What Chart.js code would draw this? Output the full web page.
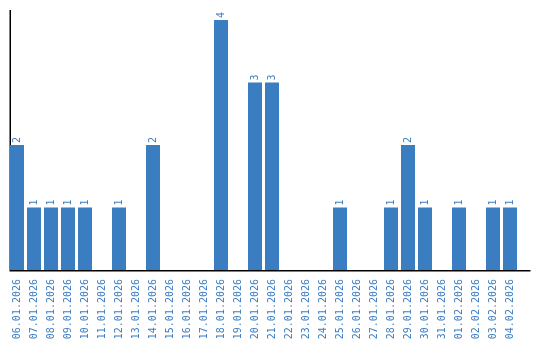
<!DOCTYPE html>
<html>
<head>
<meta charset="utf-8">
<script src="https://cdn.jsdelivr.net/npm/chart.js@4/dist/chart.umd.min.js"></script>
<style>
    html, body { margin: 0; padding: 0; background: #fff; }
    #wrap { width: 540px; height: 340px; }
</style>
</head>
<body>
<div id="wrap"><canvas id="dailyChart"></canvas></div>
<script>
const dayLabels = [
    "06.01.2026", "07.01.2026", "08.01.2026", "09.01.2026", "10.01.2026",
    "11.01.2026", "12.01.2026", "13.01.2026", "14.01.2026", "15.01.2026",
    "16.01.2026", "17.01.2026", "18.01.2026", "19.01.2026", "20.01.2026",
    "21.01.2026", "22.01.2026", "23.01.2026", "24.01.2026", "25.01.2026",
    "26.01.2026", "27.01.2026", "28.01.2026", "29.01.2026", "30.01.2026",
    "31.01.2026", "01.02.2026", "02.02.2026", "03.02.2026", "04.02.2026"
];
const dayCounts = [
    2, 1, 1, 1, 1, 0, 1, 0, 2, 0,
    0, 0, 4, 0, 3, 3, 0, 0, 0, 1,
    0, 0, 1, 2, 1, 0, 1, 0, 1, 1
];

const blue = "#3b7dc1";

// value above each bar, turned upright
const barValues = {
    id: "barValues",
    afterDatasetsDraw(chart) {
        const ctx = chart.ctx;
        const meta = chart.getDatasetMeta(0);
        ctx.save();
        ctx.fillStyle = blue;
        ctx.font = "10px 'DejaVu Sans Mono'";
        ctx.textAlign = "left";
        ctx.textBaseline = "middle";
        meta.data.forEach((bar, i) => {
            if (!dayCounts[i])
                return;
            ctx.save();
            ctx.translate(bar.x, bar.y - 2);
            ctx.rotate(-Math.PI / 2);
            ctx.fillText(String(dayCounts[i]), 0, 0);
            ctx.restore();
        });
        ctx.restore();
    }
};

// axis lines: the left one sits under the first bar,
// the bottom one runs a little past the last bar
const axisLines = {
    id: "axisLines",
    beforeDatasetsDraw(chart) {
        const ctx = chart.ctx;
        const a = chart.chartArea;
        ctx.save();
        ctx.strokeStyle = "#000";
        ctx.lineWidth = 1.5;
        ctx.beginPath();
        ctx.moveTo(10.25, a.top);
        ctx.lineTo(10.25, a.bottom);
        ctx.stroke();
        ctx.restore();
    },
    afterDraw(chart) {
        const ctx = chart.ctx;
        const a = chart.chartArea;
        ctx.save();
        ctx.strokeStyle = "#000";
        ctx.lineWidth = 1.5;
        ctx.beginPath();
        ctx.moveTo(9.5, a.bottom + 0.75);
        ctx.lineTo(530.5, a.bottom + 0.75);
        ctx.stroke();
        ctx.restore();
    }
};

new Chart(document.getElementById("dailyChart"), {
    type: "bar",
    data: {
        labels: dayLabels,
        datasets: [{
            data: dayCounts,
            backgroundColor: blue,
            barPercentage: 14 / 17,
            categoryPercentage: 1
        }]
    },
    options: {
        responsive: true,
        maintainAspectRatio: false,
        animation: false,
        layout: {
            padding: { left: 8.5, right: 21.5, top: 10, bottom: 0 }
        },
        scales: {
            x: {
                grid: { display: false },
                border: { display: false },
                ticks: {
                    color: blue,
                    font: { family: "'DejaVu Sans Mono'", size: 10 },
                    minRotation: 90,
                    maxRotation: 90,
                    autoSkip: false,
                    padding: 1
                },
                afterFit(scale) {
                    scale.height = 70;
                }
            },
            y: {
                min: 0,
                max: 4.16,
                grid: { display: false },
                border: { display: false },
                ticks: { display: false },
                afterFit(scale) {
                    scale.width = 0;
                }
            }
        },
        plugins: {
            legend: { display: false },
            tooltip: { enabled: false }
        }
    },
    plugins: [barValues, axisLines]
});
</script>
</body>
</html>
